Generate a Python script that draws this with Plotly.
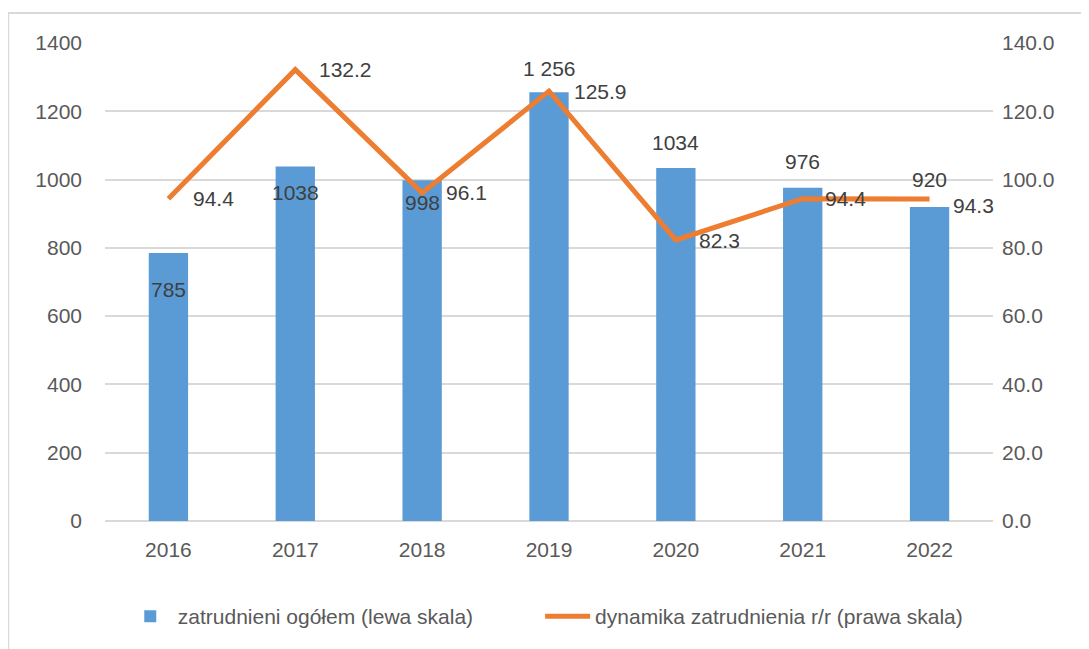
import plotly.graph_objects as go

years = ["2016", "2017", "2018", "2019", "2020", "2021", "2022"]
employed = [785, 1038, 998, 1256, 1034, 976, 920]
employed_labels = ["785", "1038", "998", "1 256", "1034", "976", "920"]
dynamics = [94.4, 132.2, 96.1, 125.9, 82.3, 94.4, 94.3]
dynamics_labels = ["94.4", "132.2", "96.1", "125.9", "82.3", "94.4", "94.3"]

left_ticks = [0, 200, 400, 600, 800, 1000, 1200, 1400]
right_ticks = [0, 20, 40, 60, 80, 100, 120, 140]

# label offsets (px) – style only
bar_label_dy = [-37, -26, -22, 24, 25, 26, 27]
line_label_dx = [23, 22, 22, 23, 21, 20, 21]
line_label_dy = [0, 0, 0, 0, 0, 0, -6]

BLUE = "#5B9BD5"
ORANGE = "#ED7D31"
GRID = "#D9D9D9"
TXT = "#595959"
LBL = "#404040"
FONT = "Liberation Sans"
FS = 21

fig = go.Figure()
fig.add_trace(go.Bar(
    x=years, y=employed, name="zatrudnieni ogółem (lewa skala)",
    marker=dict(color=BLUE, line=dict(width=0)), yaxis="y", legend="legend",
))
fig.add_trace(go.Scatter(
    x=years, y=dynamics, name="dynamika zatrudnienia r/r (prawa skala)",
    mode="lines", line=dict(color=ORANGE, width=5), yaxis="y2", legend="legend2",
))

ann = []
for i, (yv, t, dy) in enumerate(zip(employed, employed_labels, bar_label_dy)):
    ann.append(dict(x=i, y=yv, xref="x", yref="y", text=t, showarrow=False,
                    yshift=dy, font=dict(family=FONT, size=FS, color=LBL)))
for i, (yv, t, dx, dy) in enumerate(zip(dynamics, dynamics_labels, line_label_dx, line_label_dy)):
    ann.append(dict(x=i, y=yv, xref="x", yref="y2", text=t, showarrow=False,
                    xanchor="left", xshift=dx, yshift=dy,
                    font=dict(family=FONT, size=FS, color=LBL)))

legend_common = dict(orientation="h", y=-0.2, xanchor="left", yanchor="middle",
                     font=dict(family=FONT, size=FS, color=TXT), itemwidth=45,
                     bgcolor="rgba(0,0,0,0)")

fig.update_layout(
    width=1089, height=649,
    margin=dict(l=97, r=104, t=35, b=136),
    paper_bgcolor="white", plot_bgcolor="white",
    font=dict(family=FONT, size=FS, color=TXT),
    bargap=0.69,
    showlegend=True,
    legend=dict(x=0.02, **legend_common),
    legend2=dict(x=0.490, **legend_common),
    xaxis=dict(type="category", range=[-0.5, 6.5], autorange=False,
               showgrid=False, showline=False, ticks="", ticklabelstandoff=14,
               tickfont=dict(size=FS, color=TXT)),
    yaxis=dict(range=[0, 1400], autorange=False, tickvals=left_ticks, showgrid=True,
               gridcolor=GRID, gridwidth=2, zeroline=True, zerolinecolor=GRID,
               zerolinewidth=2, showline=False, ticks="", ticklabelstandoff=22,
               tickfont=dict(size=FS, color=TXT)),
    yaxis2=dict(range=[0, 140], autorange=False, tickvals=right_ticks, overlaying="y",
                side="right", tickformat=".1f", showgrid=False, zeroline=False,
                showline=False, ticks="", ticklabelstandoff=8,
                tickfont=dict(size=FS, color=TXT)),
    annotations=ann,
    shapes=[dict(type="rect", xref="paper", yref="paper", x0=-0.109, x1=1.15,
                 y0=-0.32, y1=1.063, line=dict(color="#D9D9D9", width=2),
                 fillcolor="rgba(0,0,0,0)", layer="below")],
)

fig.write_html("out.html")
